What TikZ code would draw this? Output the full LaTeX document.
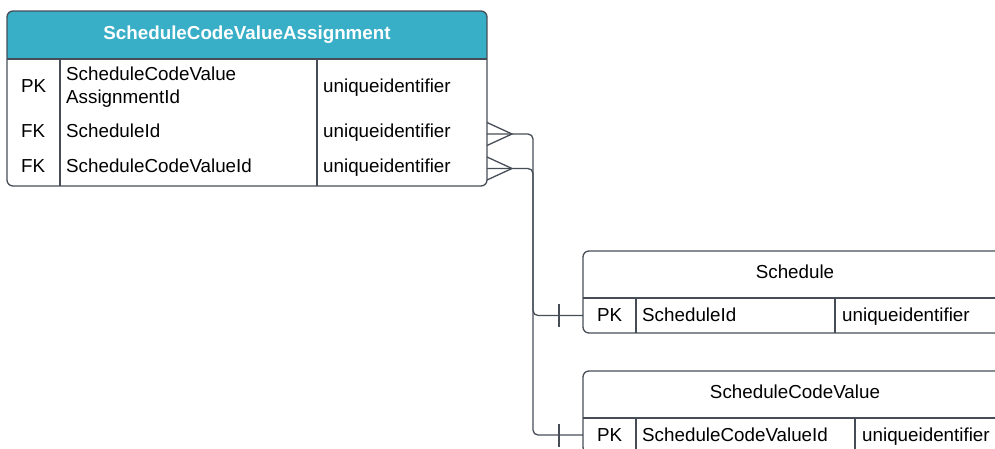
\documentclass[tikz,border=0pt]{standalone}
\usepackage{fontspec}
\setmainfont{Liberation Sans}
\definecolor{erline}{HTML}{474D57}
\definecolor{erhead}{HTML}{38AEC7}
\tikzset{
  cell/.style={inner sep=0pt, anchor=base west, font=\fontsize{18.8}{23}\selectfont},
  title/.style={cell, anchor=base},
  tbl/.style={draw=erline, line width=1.3pt, rounded corners=6pt},
  rel/.style={draw=erline, line width=1.3pt}
}
\begin{document}
\begin{tikzpicture}[x=1pt,y=-1pt]
\clip (0,0) rectangle (995,449);
% ScheduleCodeValueAssignment
\begin{scope}
  \clip[rounded corners=6pt] (7,11) rectangle (487,186);
  \fill[erhead] (7,11) rectangle (487,59);
\end{scope}
\draw[tbl] (7,11) rectangle (487,186);
\draw[rel] (7,59) -- (487,59) (60,59) -- (60,186) (317,59) -- (317,186);
\node[title, text=white, font=\fontsize{18.8}{23}\selectfont\bfseries] (sca-title) at (247,39.7) {ScheduleCodeValueAssignment};
\node[cell] (sca-key1) at (21,92.7) {PK};
\node[cell, anchor=west, align=left] (sca-name1) at (66,87) {ScheduleCodeValue\\AssignmentId};
\node[cell] (sca-type1) at (323,92.7) {uniqueidentifier};
\foreach \n/\y [count=\i from 2] in {ScheduleId/137.7, ScheduleCodeValueId/172.7}{
  \node[cell] (sca-key\i) at (21,\y) {FK};
  \node[cell] (sca-name\i) at (66,\y) {\n};
  \node[cell] (sca-type\i) at (323,\y) {uniqueidentifier};
}
% Schedule
\draw[tbl] (583,251) rectangle (1007,333);
\draw[rel] (583,298) -- (1007,298) (636,298) -- (636,333) (835,298) -- (835,333);
\node[title] (sch-title) at (795,278.7) {Schedule};
\node[cell] (sch-key) at (597,321.5) {PK};
\node[cell] (sch-name) at (642,321.5) {ScheduleId};
\node[cell] (sch-type) at (842,321.5) {uniqueidentifier};
% ScheduleCodeValue
\draw[tbl] (583,371) rectangle (1007,453);
\draw[rel] (583,418) -- (1007,418) (636,418) -- (636,453) (855,418) -- (855,453);
\node[title] (scv-title) at (795,398.7) {ScheduleCodeValue};
\node[cell] (scv-key) at (597,441) {PK};
\node[cell] (scv-name) at (642,441) {ScheduleCodeValueId};
\node[cell] (scv-type) at (862,441) {uniqueidentifier};
% relations
\coordinate (sca-fk1) at (487,134);
\coordinate (sca-fk2) at (487,168.5);
\coordinate (sch-pk) at (583,315.5);
\coordinate (scv-pk) at (583,435);
\draw[rel, rounded corners=5pt] (sca-fk1) -- ++(46,0) |- (sch-pk);
\draw[rel, rounded corners=5pt] (sca-fk2) -- ++(46,0) |- (scv-pk);
\foreach \c in {sca-fk1, sca-fk2}
  \draw[rel] (\c) ++(0,-11.5) -- ++(25,11.5) -- ++(-25,11.5);
\foreach \c in {sch-pk, scv-pk}
  \draw[rel] (\c) ++(-24,-11.5) -- ++(0,23);
\end{tikzpicture}
\end{document}
